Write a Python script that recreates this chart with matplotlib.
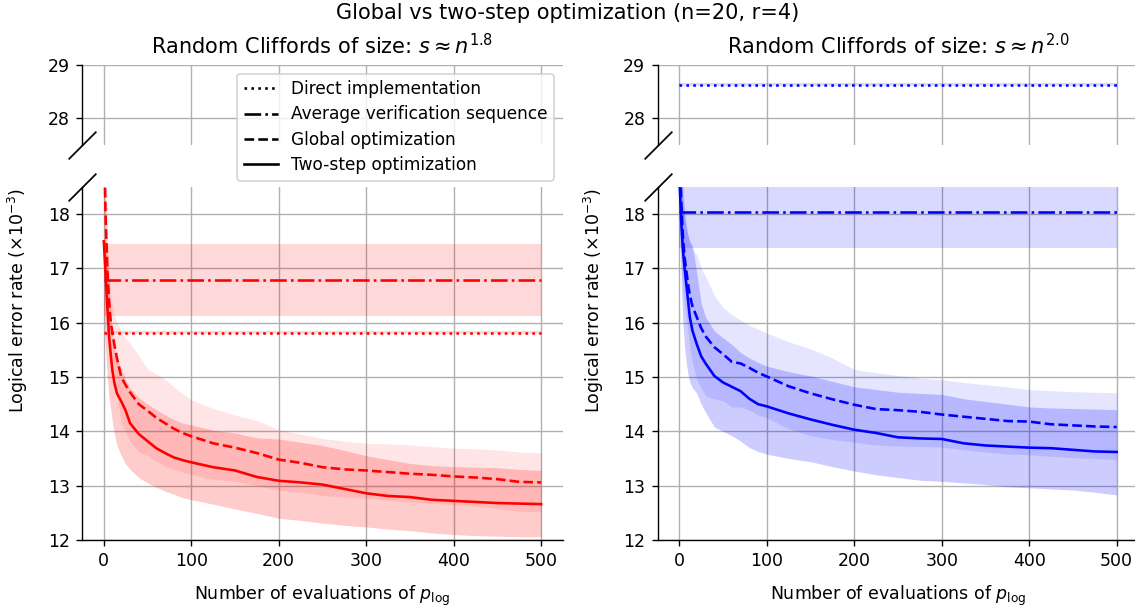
import matplotlib
matplotlib.use("Agg")
import matplotlib.pyplot as plt
from matplotlib.lines import Line2D
import numpy as np

# ---------------- data ----------------
evals = [0, 2, 4, 6, 8, 10, 12, 15, 20, 25, 30, 40, 50, 60, 70, 80, 90, 100,
         125, 150, 175, 200, 225, 250, 275, 300, 325, 350, 375, 400, 425, 450, 475, 500]

# left panel: s ~ n^1.8
left_direct = 15.82
left_direct_sd = 0.03
left_avg = 16.78
left_avg_sd = 0.665

left_twostep = [17.5, 16.9, 16.3, 15.75, 15.4, 15.1, 14.9, 14.7, 14.55, 14.38, 14.15, 13.95, 13.82, 13.69, 13.6,
                13.52, 13.47, 13.43, 13.34, 13.28, 13.16, 13.09, 13.06, 13.02, 12.94, 12.86, 12.81, 12.79, 12.74,
                12.72, 12.70, 12.68, 12.67, 12.66]
left_twostep_hi = [19.0, 18.0, 17.2, 16.6, 16.1, 15.8, 15.55, 15.35, 15.15, 14.95, 14.8, 14.62, 14.5, 14.4, 14.3,
                   14.22, 14.15, 14.12, 14.02, 13.97, 13.88, 13.86, 13.8, 13.74, 13.65, 13.55, 13.48, 13.41, 13.37,
                   13.35, 13.34, 13.33, 13.3, 13.28]
left_twostep_lo = [16.2, 15.5, 15.0, 14.6, 14.4, 14.15, 13.95, 13.75, 13.55, 13.4, 13.3, 13.15, 13.05, 12.97, 12.9,
                   12.84, 12.78, 12.74, 12.66, 12.57, 12.49, 12.40, 12.36, 12.31, 12.27, 12.24, 12.2, 12.17, 12.13,
                   12.10, 12.08, 12.07, 12.06, 12.06]
left_global = [19.5, 18.0, 17.0, 16.4, 16.0, 15.8, 15.6, 15.35, 15.0, 14.85, 14.72, 14.5, 14.38, 14.25, 14.15,
               14.05, 13.97, 13.91, 13.78, 13.70, 13.60, 13.48, 13.42, 13.34, 13.30, 13.28, 13.25, 13.22, 13.20,
               13.17, 13.15, 13.12, 13.07, 13.06]
left_global_hi = [20.5, 19.5, 17.8, 16.9, 16.5, 16.3, 16.15, 16.0, 15.85, 15.72, 15.62, 15.4, 15.15, 15.05, 14.96,
                  14.82, 14.7, 14.58, 14.42, 14.3, 14.2, 14.03, 13.95, 13.87, 13.82, 13.78, 13.77, 13.75, 13.72,
                  13.69, 13.68, 13.66, 13.62, 13.60]
left_global_lo = [18.5, 16.5, 16.2, 15.9, 15.5, 15.3, 15.05, 14.7, 14.15, 13.98, 13.82, 13.62, 13.55, 13.45, 13.36,
                  13.3, 13.25, 13.2, 13.12, 13.08, 13.0, 12.92, 12.88, 12.82, 12.79, 12.77, 12.73, 12.7, 12.68,
                  12.65, 12.62, 12.58, 12.53, 12.52]

# right panel: s ~ n^2.0
right_direct = 28.63
right_direct_sd = 0.03
right_avg = 18.03
right_avg_sd = 0.65

right_twostep = [18.7, 17.9, 17.35, 17.0, 16.7, 16.4, 16.1, 15.85, 15.6, 15.38, 15.25, 15.02, 14.9, 14.82, 14.74,
                 14.6, 14.5, 14.46, 14.33, 14.22, 14.12, 14.03, 13.97, 13.89, 13.87, 13.86, 13.78, 13.74, 13.72,
                 13.70, 13.69, 13.66, 13.63, 13.62]
right_twostep_hi = [19.5, 18.8, 18.3, 17.95, 17.75, 17.6, 17.5, 17.42, 16.9, 16.35, 16.1, 15.85, 15.72, 15.6, 15.45,
                    15.35, 15.27, 15.2, 15.1, 15.02, 14.92, 14.82, 14.77, 14.72, 14.7, 14.68, 14.6, 14.55, 14.5,
                    14.45, 14.43, 14.42, 14.41, 14.40]
right_twostep_lo = [18.0, 16.8, 16.0, 15.55, 15.25, 15.05, 14.9, 14.8, 14.7, 14.5, 14.35, 14.08, 14.0, 13.92, 13.82,
                    13.7, 13.63, 13.58, 13.5, 13.44, 13.35, 13.27, 13.2, 13.15, 13.1, 13.08, 13.05, 13.02, 12.98,
                    12.96, 12.94, 12.92, 12.88, 12.83]
right_global = [19.5, 18.3, 17.6, 17.2, 16.95, 16.7, 16.5, 16.3, 16.1, 15.9, 15.75, 15.55, 15.42, 15.28, 15.25,
                15.17, 15.08, 15.01, 14.83, 14.7, 14.59, 14.49, 14.41, 14.39, 14.36, 14.31, 14.27, 14.23, 14.19,
                14.18, 14.13, 14.11, 14.09, 14.08]
right_global_hi = [20.5, 19.5, 18.6, 18.1, 17.8, 17.6, 17.45, 17.35, 17.25, 17.0, 16.85, 16.5, 16.28, 16.15, 16.05,
                   15.95, 15.88, 15.81, 15.65, 15.52, 15.35, 15.14, 15.08, 15.03, 14.98, 14.95, 14.9, 14.86, 14.82,
                   14.77, 14.75, 14.73, 14.72, 14.71]
right_global_lo = [18.5, 17.1, 16.6, 16.3, 16.1, 15.8, 15.55, 15.25, 14.95, 14.8, 14.65, 14.6, 14.56, 14.45, 14.45,
                   14.39, 14.3, 14.25, 14.05, 13.92, 13.85, 13.8, 13.75, 13.73, 13.72, 13.71, 13.66, 13.62, 13.58,
                   13.57, 13.54, 13.52, 13.5, 13.48]

titles = [r"Random Cliffords of size: $s \approx n^{1.8}$",
          r"Random Cliffords of size: $s \approx n^{2.0}$"]
legend_labels = ["Direct implementation", "Average verification sequence",
                 "Global optimization", "Two-step optimization"]
xticks = [0, 100, 200, 300, 400, 500]
yticks_bottom = [12, 13, 14, 15, 16, 17, 18]
yticks_top = [28, 29]

# ---------------- figure ----------------
fig = plt.figure(figsize=(9.08, 4.88), dpi=125)
fig.suptitle("Global vs two-step optimization (n=20, r=4)", fontsize=12, y=0.995, va="top")

panels = [
    dict(left=0.0722, color="red", direct=left_direct, direct_sd=left_direct_sd,
         avg=left_avg, avg_sd=left_avg_sd,
         ts=left_twostep, ts_hi=left_twostep_hi, ts_lo=left_twostep_lo,
         gl=left_global, gl_hi=left_global_hi, gl_lo=left_global_lo, title=titles[0], legend=True),
    dict(left=0.5793, color="blue", direct=right_direct, direct_sd=right_direct_sd,
         avg=right_avg, avg_sd=right_avg_sd,
         ts=right_twostep, ts_hi=right_twostep_hi, ts_lo=right_twostep_lo,
         gl=right_global, gl_hi=right_global_hi, gl_lo=right_global_lo, title=titles[1], legend=False),
]

x = np.array(evals)
for p in panels:
    ax_t = fig.add_axes([p["left"], 0.7623, 0.4238, 0.1311])
    ax_b = fig.add_axes([p["left"], 0.1148, 0.4238, 0.5787])
    c = p["color"]
    for ax in (ax_t, ax_b):
        ax.fill_between(x, p["direct"] - p["direct_sd"], p["direct"] + p["direct_sd"],
                        color=c, alpha=0.15, lw=0)
        ax.fill_between(x, p["avg"] - p["avg_sd"], p["avg"] + p["avg_sd"],
                        color=c, alpha=0.15, lw=0)
        ax.fill_between(x, p["gl_lo"], p["gl_hi"], color=c, alpha=0.1, lw=0)
        ax.fill_between(x, p["ts_lo"], p["ts_hi"], color=c, alpha=0.2, lw=0)
        ax.plot(x, np.full_like(x, p["direct"], dtype=float), ":", color=c, lw=1.5)
        ax.plot(x, np.full_like(x, p["avg"], dtype=float), "-.", color=c, lw=1.5)
        ax.plot(x, p["gl"], "--", color=c, lw=1.5)
        ax.plot(x, p["ts"], "-", color=c, lw=1.5)
        ax.set_xlim(-25, 525)
        ax.grid(True, color="#b0b0b0", lw=0.8)
        ax.set_axisbelow(True)
        ax.spines["top"].set_visible(False)
        ax.spines["right"].set_visible(False)
        ax.set_xticks(xticks)
        ax.tick_params(labelsize=10)
    ax_t.set_ylim(27.5, 29)
    ax_t.set_yticks(yticks_top)
    ax_t.spines["bottom"].set_visible(False)
    ax_t.tick_params(axis="x", bottom=False, labelbottom=False)
    ax_b.set_ylim(12, 18.5)
    ax_b.set_yticks(yticks_bottom)
    ax_b.set_xlabel(r"Number of evaluations of $p_{\log}$", fontsize=10, labelpad=8)
    ax_t.set_title(p["title"], fontsize=12)

    kw = dict(marker=[(-1, -1), (1, 1)], markersize=16, linestyle="none",
              color="k", mec="k", mew=1, clip_on=False)
    ax_t.plot([0], [0], transform=ax_t.transAxes, **kw)
    ax_b.plot([0], [1], transform=ax_b.transAxes, **kw)

    fig.text(p["left"] - 0.0563, 0.508, r"Logical error rate ($\times10^{-3}$)",
             rotation=90, ha="center", va="center", fontsize=10)

    if p["legend"]:
        handles = [Line2D([], [], color="k", ls=":", lw=1.5),
                   Line2D([], [], color="k", ls="-.", lw=1.5),
                   Line2D([], [], color="k", ls="--", lw=1.5),
                   Line2D([], [], color="k", ls="-", lw=1.5)]
        leg = ax_t.legend(handles, legend_labels, loc="upper right", fontsize=9.8,
                          labelspacing=0.42)
        leg.set_zorder(10)

fig.savefig("out.png", dpi=125)
